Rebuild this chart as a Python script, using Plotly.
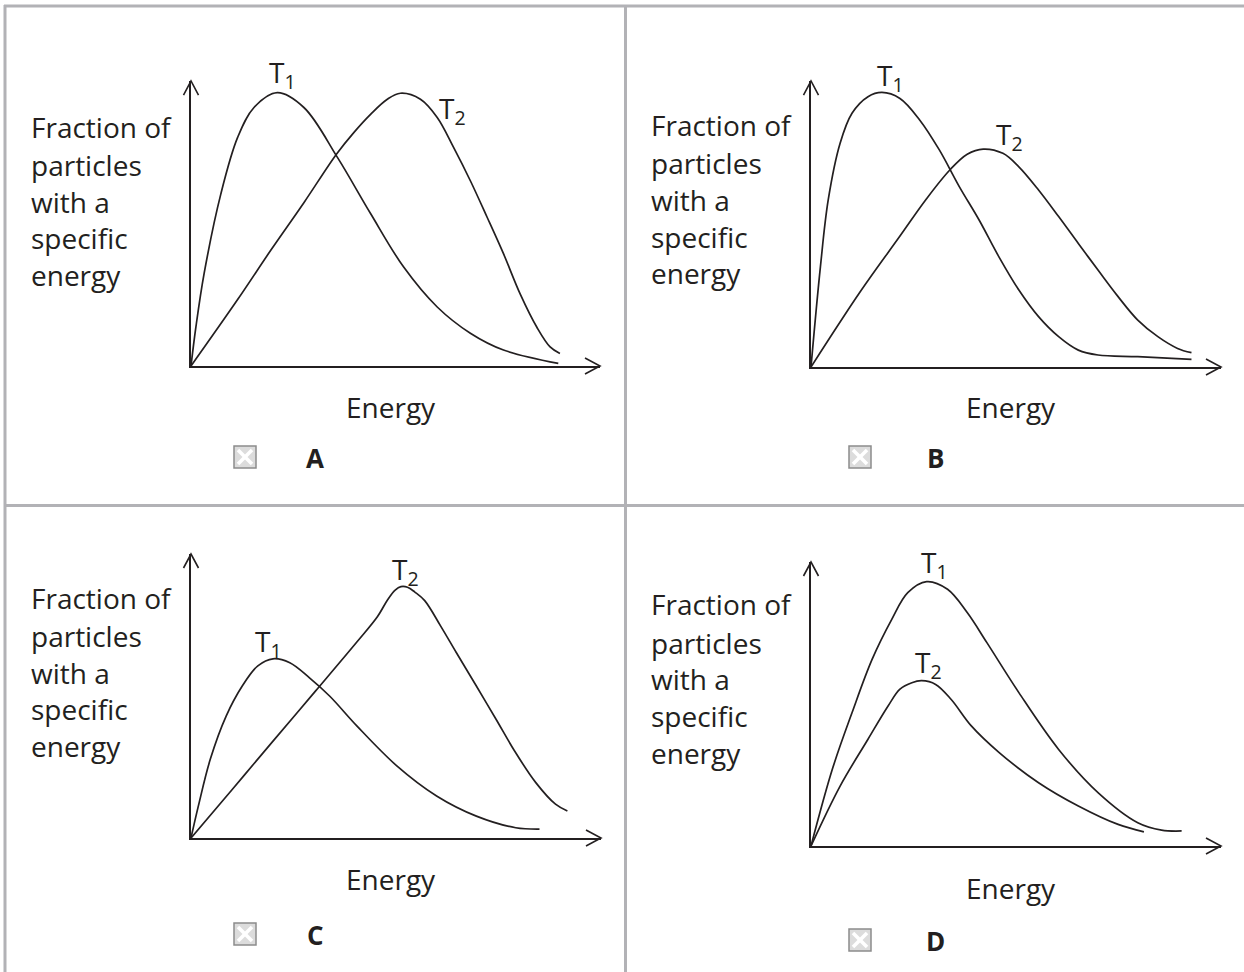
import plotly.graph_objects as go

W, H = 1244, 972
INK = "#231f20"
GRID = "#b2b2b6"
FONT = "Open Sans"

# ---------------- data (energy, fraction) in arbitrary units, 0-100 per panel -------------
A_T1_x = [0, 1.2, 3.2, 7.3, 11.4, 15.4, 21.1, 27.6, 35.8, 43.9, 52.0, 60.2, 68.3, 76.4, 89.8]
A_T1_y = [0, 13.7, 32.4, 60.4, 80.2, 90.7, 95.9, 90.7, 73.2, 53.5, 34.7, 20.7, 11.5, 5.6, 0.9]
A_T2_x = [0, 11.4, 19.5, 27.6, 35.6, 39.8, 43.9, 48.0, 51.2, 56.1, 60.2, 64.2, 68.3, 72.4, 76.4, 80.5, 84.6, 87.8, 90.2]
A_T2_y = [0, 23.3, 40.6, 57.3, 74.4, 81.9, 88.3, 93.6, 95.7, 93.6, 87.2, 76.7, 65.0, 52.2, 39.4, 25.2, 13.5, 6.7, 4.4]

B_T1_x = [0, 2.3, 4.2, 7.1, 10.0, 13.9, 17.3, 21.7, 26.5, 31.3, 36.2, 41.0, 45.8, 50.7, 55.5, 60.4, 65.2, 70.0, 79.7, 92.8]
B_T1_y = [0, 35.1, 58.4, 78.2, 88.7, 94.5, 96.0, 93.9, 86.4, 75.9, 63.0, 51.4, 38.6, 26.9, 17.6, 10.6, 5.9, 4.2, 3.6, 2.7]
B_T2_x = [0, 12.0, 21.7, 28.0, 33.8, 38.1, 42.0, 46.8, 50.7, 55.5, 60.4, 65.2, 70.0, 74.9, 79.7, 84.6, 89.4, 92.8]
B_T2_y = [0, 26.3, 45.8, 58.5, 68.8, 74.4, 76.2, 74.7, 70.0, 61.9, 52.6, 43.2, 33.9, 24.6, 16.4, 10.6, 6.5, 5.0]

C_T1_x = [0, 1.8, 4.7, 8.6, 12.5, 16.3, 20.0, 24.1, 28.9, 33.8, 40.5, 50.2, 59.9, 69.6, 79.2, 85.0]
C_T1_y = [0, 11.3, 27.7, 43.0, 53.5, 60.6, 63.1, 61.7, 56.4, 50.0, 39.4, 25.4, 14.8, 7.7, 3.6, 3.1]
C_T2_x = [0, 10.0, 20.0, 30.4, 40.5, 45.5, 48.0, 49.8, 51.2, 52.8, 54.6, 57.0, 60.9, 64.7, 69.6, 74.4, 79.2, 84.1, 88.9, 91.8]
C_T2_y = [0, 17.0, 34.1, 51.8, 69.1, 78.0, 84.0, 87.3, 88.5, 88.3, 86.6, 83.6, 74.6, 65.3, 53.5, 41.8, 30.0, 19.5, 11.9, 9.5]

D_T1_x = [0, 5.2, 10.0, 14.9, 19.7, 23.6, 28.2, 33.3, 38.1, 42.9, 50.7, 60.4, 70.0, 79.7, 85.5, 90.4]
D_T1_y = [0, 27.0, 46.9, 65.7, 79.8, 89.2, 93.1, 90.4, 82.2, 71.6, 54.0, 34.0, 18.8, 8.2, 5.6, 5.3]
D_T2_x = [0, 7.1, 13.9, 18.8, 21.7, 24.6, 27.0, 30.4, 34.2, 39.1, 45.9, 55.5, 65.2, 74.9, 81.2]
D_T2_y = [0, 21.1, 37.6, 49.3, 55.2, 57.5, 58.2, 56.9, 51.6, 42.3, 32.9, 22.3, 14.1, 7.6, 5.0]

panel_letters = ["A", "B", "C", "D"]
y_label_lines = ["Fraction of", "particles", "with a", "specific", "energy"]
x_label = "Energy"
curve_names = ["T<sub>1</sub>", "T<sub>2</sub>"]

curves = {
    "A": [(A_T1_x, A_T1_y), (A_T2_x, A_T2_y)],
    "B": [(B_T1_x, B_T1_y), (B_T2_x, B_T2_y)],
    "C": [(C_T1_x, C_T1_y), (C_T2_x, C_T2_y)],
    "D": [(D_T1_x, D_T1_y), (D_T2_x, D_T2_y)],
}

# ---------------- layout (pixel geometry) ----------------
# plot boxes: (x_left, x_right, y_bottom, y_top) in page pixels
boxes = {
    "A": (191, 600, 366, 81),
    "B": (811, 1221, 367, 81),
    "C": (191, 601, 838, 554),
    "D": (811, 1221, 846, 562),
}
ylab_pos = {"A": (29, [127, 165, 202, 238, 275]),
            "B": (649, [125, 163, 200, 237, 273]),
            "C": (29, [598, 636, 673, 709, 746]),
            "D": (649, [604, 643, 679, 716, 753])}
energy_pos = {"A": (391, 407), "B": (1011, 407), "C": (391, 879), "D": (1011, 888)}
box_pos = {"A": (245, 457), "B": (860, 457), "C": (245, 934), "D": (860, 940)}
letter_pos = {"A": (315, 458), "B": (935, 458), "C": (315, 935), "D": (935, 941)}
tlab_pos = {"A": [(267, 74), (437, 110)],
            "B": [(875, 77), (994, 136)],
            "C": [(253, 643), (390, 571)],
            "D": [(919, 564), (913, 664)]}


def px(x):
    return x / W


def py(y):
    return 1 - y / H


def paper_path(points):
    return "M " + " L ".join(f"{px(a):.5f},{py(b):.5f}" for a, b in points)


fig = go.Figure()
annotations = []
shapes = []

for i, p in enumerate(panel_letters):
    n = "" if i == 0 else str(i + 1)
    xl, xr, yb, yt = boxes[p]
    fig.update_layout(**{
        f"xaxis{n}": dict(domain=[px(xl), px(xr)], range=[0, 100], anchor=f"y{n}",
                          showline=True, linecolor=INK, linewidth=1.6, showgrid=False,
                          zeroline=False, showticklabels=False, ticks="", fixedrange=True),
        f"yaxis{n}": dict(domain=[py(yb), py(yt)], range=[0, 100], anchor=f"x{n}",
                          showline=True, linecolor=INK, linewidth=1.6, showgrid=False,
                          zeroline=False, showticklabels=False, ticks="", fixedrange=True),
    })
    for (cx, cy) in curves[p]:
        fig.add_trace(go.Scatter(x=cx, y=cy, mode="lines", xaxis=f"x{n}", yaxis=f"y{n}",
                                 line=dict(color=INK, width=1.7, shape="spline", smoothing=1.0),
                                 showlegend=False, hoverinfo="skip", cliponaxis=False))
    # arrow heads (open chevrons) at the ends of the axes
    shapes.append(dict(type="path", xref="paper", yref="paper",
                       path=paper_path([(xl - 7.5, yt + 14), (xl, yt), (xl + 7.5, yt + 14)]),
                       line=dict(color=INK, width=1.6)))
    shapes.append(dict(type="path", xref="paper", yref="paper",
                       path=paper_path([(xr - 15, yb - 8), (xr, yb), (xr - 15, yb + 8)]),
                       line=dict(color=INK, width=1.6)))
    # y label lines
    lx, lys = ylab_pos[p]
    for t, ly in zip(y_label_lines, lys):
        annotations.append(dict(text=t, x=px(lx), y=py(ly), xref="paper", yref="paper",
                                xanchor="left", yanchor="middle", showarrow=False,
                                font=dict(family=FONT, size=28, color=INK)))
    ex, ey = energy_pos[p]
    annotations.append(dict(text=x_label, x=px(ex), y=py(ey), xref="paper", yref="paper",
                            xanchor="center", yanchor="middle", showarrow=False,
                            font=dict(family=FONT, size=28, color=INK)))
    for name, (tx, ty) in zip(curve_names, tlab_pos[p]):
        annotations.append(dict(text=name, x=px(tx), y=py(ty), xref="paper", yref="paper",
                                xanchor="left", yanchor="middle", showarrow=False,
                                font=dict(family=FONT, size=28, color=INK)))
    # checkbox
    bx, by = box_pos[p]
    s = 11
    shapes.append(dict(type="rect", xref="paper", yref="paper",
                       x0=px(bx - s), x1=px(bx + s), y0=py(by + s), y1=py(by - s),
                       fillcolor="#dcdcdc", line=dict(color="#8c8c8c", width=1.5)))
    for (a0, b0, a1, b1) in [(-s + 4, -s + 4, s - 4, s - 4), (-s + 4, s - 4, s - 4, -s + 4)]:
        shapes.append(dict(type="line", xref="paper", yref="paper",
                           x0=px(bx + a0), y0=py(by + b0), x1=px(bx + a1), y1=py(by + b1),
                           line=dict(color="white", width=3.5)))
    lx2, ly2 = letter_pos[p]
    annotations.append(dict(text=f"<b>{p}</b>", x=px(lx2), y=py(ly2), xref="paper", yref="paper",
                            xanchor="center", yanchor="middle", showarrow=False,
                            font=dict(family=FONT, size=26, color=INK)))

# grey frame lines
for (x0, y0, x1, y1) in [(4, 6, 1244, 6), (5, 5, 5, 972), (625.5, 5, 625.5, 972), (4, 505.5, 1244, 505.5)]:
    shapes.append(dict(type="line", xref="paper", yref="paper", x0=px(x0), y0=py(y0),
                       x1=px(x1), y1=py(y1), line=dict(color=GRID, width=3), layer="below"))

fig.update_layout(width=W, height=H, margin=dict(l=0, r=0, t=0, b=0),
                  paper_bgcolor="white", plot_bgcolor="rgba(0,0,0,0)",
                  annotations=annotations, shapes=shapes, showlegend=False)

fig.write_html("out.html", config={"displayModeBar": False},
               post_script="document.body.style.margin='0';document.body.style.padding='0';"
                           "document.body.style.overflow='hidden';")
